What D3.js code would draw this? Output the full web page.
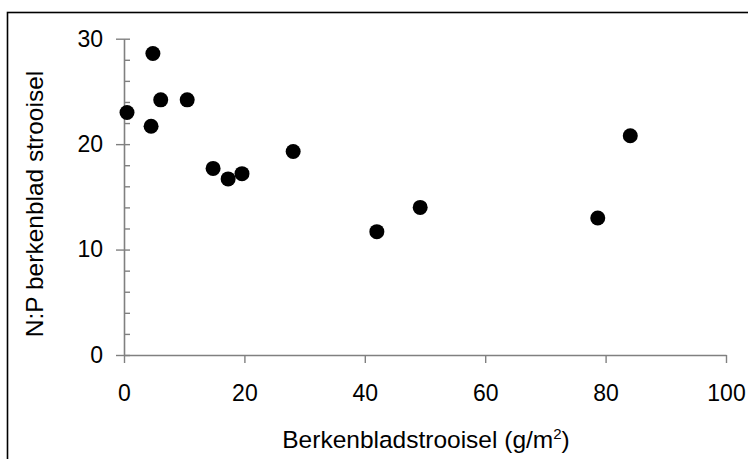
<!DOCTYPE html>
<html>
<head>
<meta charset="utf-8">
<script src="https://cdn.jsdelivr.net/npm/d3@7"></script>
<style>
  html, body { margin: 0; padding: 0; background: #fff; }
  svg { display: block; }
  text { font-family: "Liberation Sans", Arial, sans-serif; fill: #000; }
</style>
</head>
<body>
<svg id="chart" width="748" height="459"></svg>
<script>
const litterMass = [0.5, 4.8, 6.1, 10.5, 4.5, 14.8, 17.3, 19.6, 28.1, 42.0, 49.2, 78.7, 84.1];
const npRatio    = [23.0, 28.6, 24.2, 24.2, 21.7, 17.7, 16.7, 17.2, 19.3, 11.7, 14.0, 13.0, 20.8];
const xTicks = [0, 20, 40, 60, 80, 100];
const yTicks = [0, 10, 20, 30];
const yMinorTicks = [2, 4, 6, 8, 12, 14, 16, 18, 22, 24, 26, 28];
const xTitle = "Berkenbladstrooisel (g/m";
const xTitleSup = "2";
const yTitle = "N:P berkenblad strooisel";

(function () {
const svg = d3.select("#chart");
const plotLeft = 124, plotRight = 726, plotTop = 38.7, plotBottom = 355;
const tickFont = 23;
const titleFont = 24.5;
const axisColor = "#808080";

// outer frame (only top and left visible)
svg.append("rect")
  .attr("x", 7.5).attr("y", 12.5)
  .attr("width", 800).attr("height", 500)
  .attr("fill", "none").attr("stroke", "#000").attr("stroke-width", 1.6);

const x = d3.scaleLinear().domain([0, 100]).range([plotLeft, plotRight]);
const y = d3.scaleLinear().domain([0, 30]).range([plotBottom, plotTop]);

// x axis
const gx = svg.append("g").attr("transform", `translate(0,${plotBottom})`)
  .call(d3.axisBottom(x).tickValues(xTicks).tickSizeInner(8).tickSizeOuter(0).tickPadding(22));
gx.select(".domain").attr("stroke", axisColor).attr("stroke-width", 1.6);
gx.selectAll(".tick line").attr("stroke", axisColor).attr("stroke-width", 1.4);
gx.selectAll(".tick text").attr("font-size", tickFont)
  .attr("font-family", "Liberation Sans, Arial, sans-serif").attr("fill", "#000");

// y axis major (outer part + labels)
const gy = svg.append("g").attr("transform", `translate(${plotLeft},0)`)
  .call(d3.axisLeft(y).tickValues(yTicks).tickSizeInner(8).tickSizeOuter(0).tickPadding(13));
gy.select(".domain").attr("stroke", axisColor).attr("stroke-width", 1.6);
gy.selectAll(".tick line").attr("stroke", axisColor).attr("stroke-width", 1.4);
gy.selectAll(".tick text").attr("font-size", tickFont)
  .attr("font-family", "Liberation Sans, Arial, sans-serif").attr("fill", "#000");

// y axis inner ticks (major + minor, pointing inside)
const gyIn = svg.append("g").attr("transform", `translate(${plotLeft},0)`)
  .call(d3.axisRight(y).tickValues(yTicks.concat(yMinorTicks)).tickSizeInner(6).tickSizeOuter(0).tickFormat(""));
gyIn.select(".domain").remove();
gyIn.selectAll(".tick line").attr("stroke", axisColor).attr("stroke-width", 1.4);

// points
svg.append("g").selectAll("circle")
  .data(litterMass.map((v, i) => [v, npRatio[i]]))
  .join("circle")
  .attr("cx", d => x(d[0]))
  .attr("cy", d => y(d[1]))
  .attr("r", 7.5)
  .attr("fill", "#000");

// x title
const xt = svg.append("text")
  .attr("x", 426).attr("y", 448)
  .attr("text-anchor", "middle").attr("font-size", titleFont);
xt.append("tspan").text(xTitle);
xt.append("tspan").attr("font-size", 15).attr("dy", -9).text(xTitleSup);
xt.append("tspan").attr("dy", 9).text(")");

// y title
svg.append("text")
  .attr("transform", `translate(43,204) rotate(-90)`)
  .attr("text-anchor", "middle").attr("font-size", titleFont)
  .text(yTitle);
})();
</script>
</body>
</html>
